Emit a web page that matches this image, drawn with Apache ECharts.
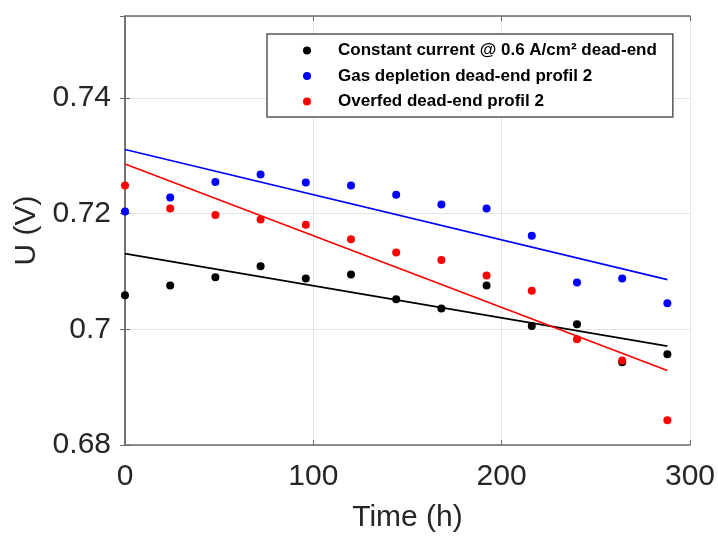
<!DOCTYPE html>
<html>
<head>
<meta charset="utf-8">
<script src="https://cdn.jsdelivr.net/npm/echarts@6/dist/echarts.min.js"></script>
<style>html,body{margin:0;padding:0;background:#fff;}#c{width:718px;height:538px;}</style>
</head>
<body>
<div id="c"></div>
<script>
var times = [0, 24, 48, 72, 96, 120, 144, 168, 192, 216, 240, 264, 288];
var constantCurrent = [0.7059, 0.7076, 0.7090, 0.7109, 0.7088, 0.7095, 0.7052, 0.7036, 0.7076, 0.7006, 0.7009, 0.6943, 0.6957];
var gasDepletion = [0.7204, 0.7228, 0.7255, 0.7268, 0.7254, 0.7249, 0.7233, 0.7216, 0.7209, 0.7162, 0.7081, 0.7088, 0.7045];
var overfed = [0.7249, 0.7209, 0.7198, 0.7190, 0.7181, 0.7156, 0.7133, 0.7120, 0.7093, 0.7067, 0.6983, 0.6946, 0.6843];
var fitTimes = [0, 288];
var fitConstant = [0.7131, 0.6971];
var fitGas = [0.7311, 0.7086];
var fitOverfed = [0.7286, 0.6929];
var seriesNames = ['Constant current @ 0.6 A/cm\u00b2 dead-end', 'Gas depletion dead-end profil 2', 'Overfed dead-end profil 2'];
var xTicks = [0, 100, 200, 300];
var yTicks = [0.68, 0.70, 0.72, 0.74];

function pairs(xs, ys) { return xs.map(function (x, i) { return [x, ys[i]]; }); }

var FONT = 'Liberation Sans, Arial, sans-serif';
var AX = '#6a6a6a';
var chart = echarts.init(document.getElementById('c'));
var yFmt = function (v) {
  for (var i = 0; i < yTicks.length; i++) if (Math.abs(v - yTicks[i]) < 1e-6) return String(parseFloat(yTicks[i].toFixed(2)));
  return '';
};
chart.setOption({
  animation: false,
  backgroundColor: '#fff',
  grid: { left: 125, top: 16, right: 28, bottom: 92, containLabel: false },
  legend: {
    orient: 'vertical', left: 267, top: 34,
    data: seriesNames.map(function (n) { return { name: n, icon: 'circle' }; }),
    itemWidth: 8, itemHeight: 8, itemGap: 8.5,
    borderColor: '#555', borderWidth: 1.5, borderRadius: 0,
    padding: [8, 16, 7, 36],
    backgroundColor: '#fff',
    textStyle: { fontFamily: FONT, fontWeight: 'bold', fontSize: 17, color: '#000', lineHeight: 16, padding: [0, 0, 0, 22] }
  },
  xAxis: [{
    type: 'value', min: 0, max: 300, interval: 100, position: 'bottom',
    name: 'Time (h)', nameLocation: 'middle', nameGap: 58,
    nameTextStyle: { fontFamily: FONT, fontSize: 30, color: '#262626' },
    axisLine: { show: true, lineStyle: { color: AX, width: 1.5 } },
    axisTick: { show: true, inside: true, length: 5, lineStyle: { color: AX } },
    axisLabel: { fontFamily: FONT, fontSize: 30, color: '#262626', margin: 17 },
    splitLine: { show: true, lineStyle: { color: '#e4e4e4', width: 1 } }
  }, {
    type: 'value', min: 0, max: 300, interval: 100, position: 'top',
    axisLine: { show: true, lineStyle: { color: AX, width: 1.5 } },
    axisTick: { show: true, inside: true, length: 5, lineStyle: { color: AX } },
    axisLabel: { show: false }, splitLine: { show: false }
  }],
  yAxis: [{
    type: 'value', min: 0.68, max: 0.7542, interval: 0.02, position: 'left',
    name: 'U (V)', nameLocation: 'middle', nameGap: 81, nameRotate: 90,
    nameTextStyle: { fontFamily: FONT, fontSize: 30, color: '#262626' },
    axisLine: { show: true, lineStyle: { color: AX, width: 1.5 } },
    axisTick: { show: true, inside: true, length: 5, lineStyle: { color: AX } },
    axisLabel: { fontFamily: FONT, fontSize: 30, color: '#262626', margin: 14, formatter: yFmt, showMaxLabel: false },
    splitLine: { show: true, lineStyle: { color: '#e4e4e4', width: 1 } }
  }, {
    type: 'value', min: 0.68, max: 0.7542, interval: 0.02, position: 'right',
    axisLine: { show: true, lineStyle: { color: AX, width: 1.5 } },
    axisTick: { show: true, inside: true, length: 5, lineStyle: { color: AX } },
    axisLabel: { show: false }, splitLine: { show: false }
  }],
  series: [
    { name: seriesNames[0], type: 'line', data: pairs(fitTimes, fitConstant), showSymbol: false, symbol: 'none', lineStyle: { color: '#000', width: 1.6 }, itemStyle: { color: '#000' }, silent: true, z: 2 },
    { name: seriesNames[1], type: 'line', data: pairs(fitTimes, fitGas), showSymbol: false, symbol: 'none', lineStyle: { color: '#0000ff', width: 1.6 }, itemStyle: { color: '#0000ff' }, silent: true, z: 2 },
    { name: seriesNames[2], type: 'line', data: pairs(fitTimes, fitOverfed), showSymbol: false, symbol: 'none', lineStyle: { color: '#ff0000', width: 1.6 }, itemStyle: { color: '#ff0000' }, silent: true, z: 2 },
    { name: seriesNames[0], type: 'scatter', data: pairs(times, constantCurrent), symbol: 'circle', symbolSize: 8, itemStyle: { color: '#000', opacity: 1 }, z: 3 },
    { name: seriesNames[1], type: 'scatter', data: pairs(times, gasDepletion), symbol: 'circle', symbolSize: 8, itemStyle: { color: '#0000ff', opacity: 1 }, z: 3 },
    { name: seriesNames[2], type: 'scatter', data: pairs(times, overfed), symbol: 'circle', symbolSize: 8, itemStyle: { color: '#ff0000', opacity: 1 }, z: 3 }
  ]
});
</script>
</body>
</html>
